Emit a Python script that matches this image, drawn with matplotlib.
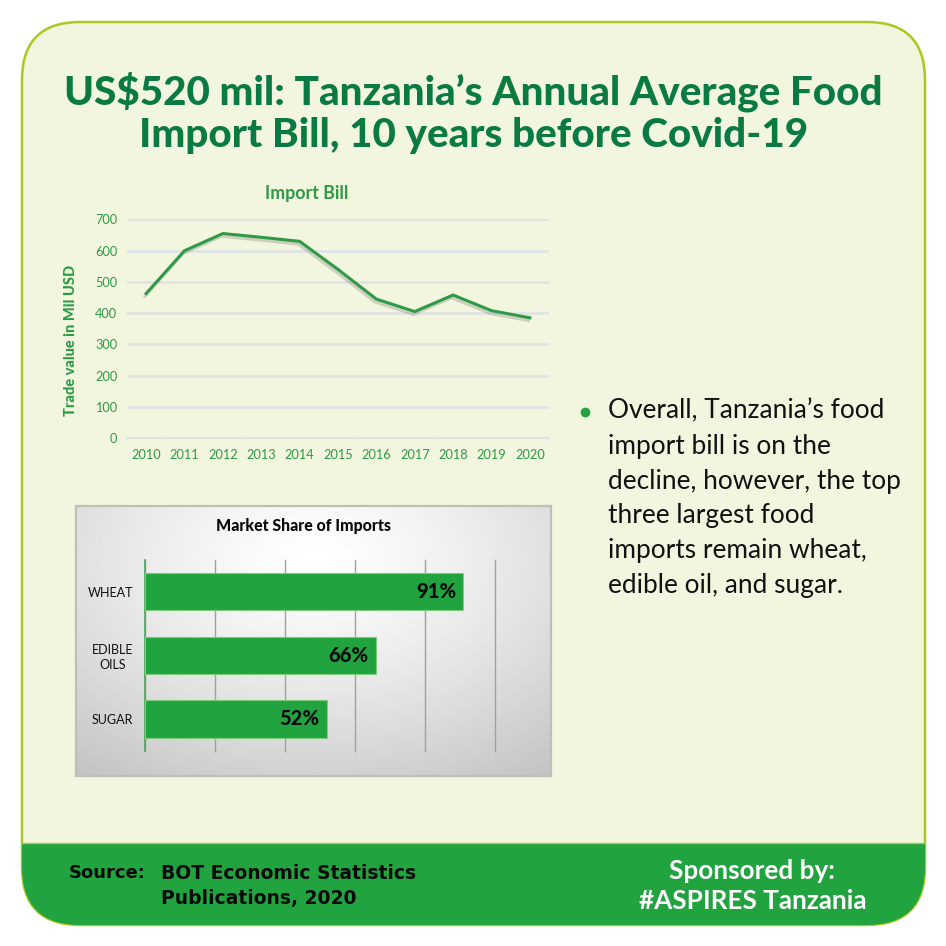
import numpy as np
import matplotlib
matplotlib.use('Agg')
import matplotlib.pyplot as plt
import matplotlib.patheffects as pe
from matplotlib.patches import FancyBboxPatch, Rectangle

# Import bill, Mil USD
years = [2010, 2011, 2012, 2013, 2014, 2015, 2016, 2017, 2018, 2019, 2020]
import_bill = [463, 600, 655, 643, 630, 540, 445, 405, 458, 408, 385]
y_ticks = [0, 100, 200, 300, 400, 500, 600, 700]

# Market share of imports, %
products = ['WHEAT', 'EDIBLE\nOILS', 'SUGAR']
shares = [91, 66, 52]
share_labels = ['91%', '66%', '52%']
share_grid = [0, 20, 40, 60, 80, 100]

title_lines = ["US$520 mil: Tanzania’s Annual Average Food",
               "Import Bill, 10 years before Covid-19"]
bullet_lines = ["Overall, Tanzania’s food", "import bill is on the",
                "decline, however, the top", "three largest food",
                "imports remain wheat,", "edible oil, and sugar."]

GREEN = '#21A33F'
LINE_GREEN = '#2E9A45'
CREAM = '#F2F6DF'
TITLE_GREEN = '#0A7A43'
W = 946

plt.rcParams['font.family'] = ['Lato', 'DejaVu Sans']


def pixel_axes(fig, x0, y0, x1, y1):
    """Axes placed by its pixel box, y measured from the top."""
    return fig.add_axes([x0 / W, 1 - y1 / W, (x1 - x0) / W, (y1 - y0) / W])


fig = plt.figure(figsize=(9.46, 9.46), dpi=100, facecolor='white')

# =============================================================================
# Card, footer band and free text
# =============================================================================
bg = fig.add_axes([0, 0, 1, 1])
bg.set_xlim(0, W)
bg.set_ylim(W, 0)
bg.axis('off')

card = FancyBboxPatch((22, 22), 903, 903, boxstyle='round,pad=0,rounding_size=58',
                      fc=CREAM, ec='#A9C91E', lw=1.8, zorder=1)
bg.add_patch(card)
band = Rectangle((22, 843), 903, 83, fc=GREEN, ec='none', zorder=2)
band.set_clip_path(card)
bg.add_patch(band)
bg.plot([22, 925], [843, 843], color='#9CCB55', lw=1, zorder=3)

for y, line in zip([92, 135], title_lines):
    bg.text(473.5, y, line, color=TITLE_GREEN, fontsize=29.1, fontweight='black',
            ha='center', va='center', zorder=4)

bg.plot([585], [412], 'o', color=GREEN, ms=6, zorder=4)
for y, line in zip([411, 446, 481, 515, 550, 585], bullet_lines):
    bg.text(608, y, line, color='#111111', fontsize=18.9, ha='left', va='center', zorder=4)

bg.text(69, 873, 'Source:', fontsize=13, fontweight='bold', family='DejaVu Sans',
        color='#0A0A0A', va='center', zorder=4)
bg.text(161, 873, 'BOT Economic Statistics', fontsize=13.5, fontweight='bold',
        family='DejaVu Sans', color='#0A0A0A', va='center', zorder=4)
bg.text(161, 898, 'Publications, 2020', fontsize=13.5, fontweight='bold',
        family='DejaVu Sans', color='#0A0A0A', va='center', zorder=4)
bg.text(752, 871, 'Sponsored by:', fontsize=18.8, fontweight='bold', color='white',
        ha='center', va='center', zorder=4)
bg.text(753, 901, '#ASPIRES Tanzania', fontsize=18.8, fontweight='bold', color='white',
        ha='center', va='center', zorder=4)

# =============================================================================
# Line chart
# =============================================================================
ax = pixel_axes(fig, 127, 219.5, 549, 438)
ax.patch.set_alpha(0)
ax.plot(years, import_bill, color=LINE_GREEN, lw=2.2, solid_joinstyle='miter',
        path_effects=[pe.SimpleLineShadow(offset=(-1, -2), shadow_color='#888888', alpha=0.35),
                      pe.Normal()])
ax.set_xlim(2009.5, 2020.5)
ax.set_ylim(0, 700)
ax.set_xticks(years)
ax.set_yticks(y_ticks)
ax.grid(axis='y', color='#DFE3E6', lw=1.8)
ax.set_axisbelow(True)
ax.tick_params(axis='both', length=0, labelcolor=LINE_GREEN, labelsize=9.2)
ax.tick_params(axis='y', pad=7)
ax.tick_params(axis='x', pad=8)
for s in ['top', 'right', 'left']:
    ax.spines[s].set_visible(False)
ax.spines['bottom'].set_color('#DFE3E6')
ax.spines['bottom'].set_linewidth(1.5)
for x in np.arange(2009.5, 2021):
    ax.plot([x, x], [0, -6], color='#DFE3E6', lw=1, clip_on=False)
ax.set_ylabel('Trade value in Mil USD', color=LINE_GREEN, fontsize=10.5, fontweight='black')
ax.yaxis.set_label_coords(-0.115, 0.446)
ax.set_title('Import Bill', color=LINE_GREEN, fontsize=12.8, fontweight='bold',
             x=0.425, pad=15)

# =============================================================================
# Bar chart on its grey panel
# =============================================================================
panel = pixel_axes(fig, 76, 506, 551, 776)
xx, yy = np.meshgrid(np.linspace(0, 1, 240), np.linspace(0, 1, 140))
dist = np.sqrt(((xx - 0.5) / 0.85) ** 2 + ((yy - 0.2) / 1.0) ** 2)
panel.imshow(1 - 0.24 * np.clip(dist, 0, 1) ** 1.3, cmap='gray', vmin=0, vmax=1, aspect='auto',
             extent=(0, 1, 1, 0), interpolation='bilinear')
panel.set_xticks([])
panel.set_yticks([])
for s in panel.spines.values():
    s.set_color('#BCC0B6')
    s.set_linewidth(1.6)
panel.text(0.479, 0.925, 'Market Share of Imports', transform=panel.transAxes, fontsize=11.4,
           fontweight='black', color='#0A0A0A', ha='center', va='center')

bx = pixel_axes(fig, 144.5, 560, 494.5, 751)
bx.patch.set_alpha(0)
positions = np.arange(len(products))
bx.barh(positions, shares, height=0.59, color=GREEN, edgecolor='#7CCB7E', linewidth=0.8, zorder=3)
for p, v, lab in zip(positions, shares, share_labels):
    bx.text(v - 2, p, lab, ha='right', va='center', fontsize=14.5, fontweight='black',
            color='#0A0A0A', zorder=4)
bx.set_xlim(0, 100)
bx.set_ylim(2.503, -0.498)
bx.set_xticks(share_grid)
bx.set_yticks(positions)
bx.set_yticklabels(products, fontsize=9, color='#111111', multialignment='center',
                   linespacing=1.25)
bx.grid(axis='x', color='#A0A0A0', lw=1, clip_on=False)
bx.set_axisbelow(True)
bx.tick_params(axis='x', length=0, labelbottom=False)
bx.tick_params(axis='y', length=0, pad=8)
for s in ['top', 'right', 'bottom']:
    bx.spines[s].set_visible(False)
bx.spines['left'].set_color('#4FA85A')
bx.spines['left'].set_linewidth(1.2)

plt.savefig('out.png', dpi=100)
